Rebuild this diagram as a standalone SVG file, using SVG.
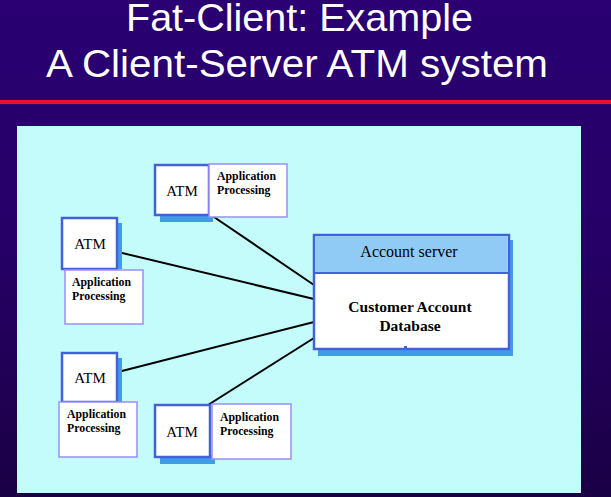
<svg xmlns="http://www.w3.org/2000/svg" width="611" height="497" viewBox="0 0 611 497">
<defs>
<linearGradient id="bg" x1="0" y1="0" x2="0" y2="1">
<stop offset="0" stop-color="#2a0072"/>
<stop offset="0.5" stop-color="#260066"/>
<stop offset="1" stop-color="#1a0044"/>
</linearGradient>
</defs>
<style>
.title{font-family:"Liberation Sans",Arial,sans-serif;font-size:38.5px;fill:#ffffff}
.atm{fill:#ffffff;stroke:#4262d9;stroke-width:2.5}
.shadow{fill:#3f9ce8}
.app{fill:#ffffff;stroke:#9b8df7;stroke-width:1.5}
.atmt{font-family:"Liberation Serif","Times New Roman",serif;font-size:15px;fill:#000;text-anchor:middle}
.appt{font-family:"Liberation Serif","Times New Roman",serif;font-size:11.8px;font-weight:bold;fill:#000}
.conn{stroke:#000;stroke-width:2;fill:none}
.srvt{font-family:"Liberation Serif","Times New Roman",serif;font-size:16px;fill:#000;text-anchor:middle}
.dbt{font-family:"Liberation Serif","Times New Roman",serif;font-size:15.5px;font-weight:bold;fill:#000;text-anchor:middle}
</style>
<rect x="0" y="0" width="611" height="497" fill="url(#bg)"/>
<text class="title" x="126" y="31" textLength="347" lengthAdjust="spacingAndGlyphs">Fat-Client: Example</text>
<text class="title" x="46" y="77" textLength="502" lengthAdjust="spacingAndGlyphs">A Client-Server ATM system</text>
<rect x="0" y="100" width="611" height="4" fill="#e8102a"/>
<rect x="17" y="126" width="564" height="367" fill="#c4fcfc"/>

<g id="connectors">
<line class="conn" x1="211" y1="215" x2="314" y2="285"/>
<line class="conn" x1="118" y1="252" x2="314" y2="299"/>
<line class="conn" x1="118" y1="372" x2="314" y2="322"/>
<line class="conn" x1="208" y1="405" x2="314" y2="338"/>
</g>

<g id="server">
<rect class="shadow" x="318" y="240" width="195" height="116"/>
<rect x="314" y="235" width="195" height="114" fill="#ffffff" stroke="#4262d9" stroke-width="2.5"/>
<rect x="315.25" y="236.25" width="192.5" height="36.75" fill="#8fcbf5"/>
<line x1="314" y1="273" x2="509" y2="273" stroke="#4262d9" stroke-width="2"/>
<text class="srvt" x="409" y="257">Account server</text>
<text class="dbt" x="410" y="312">Customer Account</text>
<text class="dbt" x="410" y="331">Database</text>
<rect x="404" y="346" width="3" height="3" fill="#4262d9"/>
</g>

<g id="atm-top">
<rect class="shadow" x="160" y="213" width="53" height="9"/>
<rect class="atm" x="155" y="165" width="54" height="50"/>
<text class="atmt" x="182" y="196">ATM</text>
<rect class="app" x="209" y="164" width="78" height="53"/>
<text class="appt" x="217" y="180">Application</text>
<text class="appt" x="217" y="194">Processing</text>
</g>

<g id="atm-left1">
<rect class="shadow" x="116" y="223" width="6" height="46"/>
<rect class="atm" x="62" y="218" width="55" height="51"/>
<text class="atmt" x="90" y="249">ATM</text>
<rect class="app" x="65" y="270" width="78" height="54"/>
<text class="appt" x="72" y="286">Application</text>
<text class="appt" x="72" y="300">Processing</text>
</g>

<g id="atm-left2">
<rect class="shadow" x="116" y="358" width="6" height="44"/>
<rect class="atm" x="62" y="353" width="55" height="49"/>
<text class="atmt" x="90" y="383">ATM</text>
<rect class="app" x="59" y="402" width="78" height="55"/>
<text class="appt" x="67" y="418">Application</text>
<text class="appt" x="67" y="432">Processing</text>
</g>

<g id="atm-bottom">
<rect class="shadow" x="160" y="455" width="55" height="9"/>
<rect class="atm" x="155" y="405" width="55" height="52"/>
<text class="atmt" x="182" y="437">ATM</text>
<rect class="app" x="212" y="404" width="79" height="55"/>
<text class="appt" x="220" y="421">Application</text>
<text class="appt" x="220" y="435">Processing</text>
</g>
</svg>
